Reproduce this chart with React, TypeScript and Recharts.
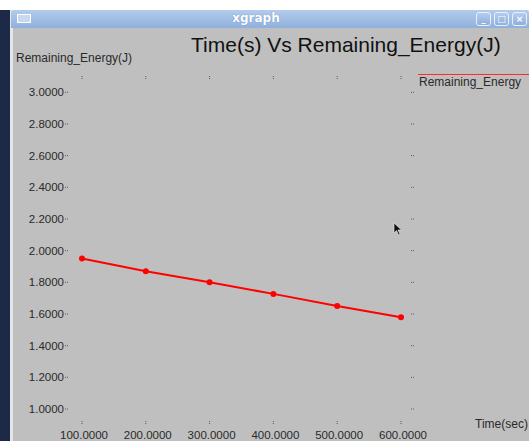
import * as React from "react";
import { LineChart, Line, XAxis, YAxis } from "recharts";

const times = [100, 200, 300, 400, 500, 600];
const remainingEnergy = [1.95, 1.87, 1.8, 1.727, 1.65, 1.58];
const xTicks = [100, 200, 300, 400, 500, 600];
const yTicks = [1.0, 1.2, 1.4, 1.6, 1.8, 2.0, 2.2, 2.4, 2.6, 2.8, 3.0];

const data = times.map((time, i) => ({ time, energy: remainingEnergy[i] }));

const FONT = "'Liberation Sans', Arial, Helvetica, sans-serif";
const BG = "#bfbfbf";
const INK = "#2a2a2a";
const MARK = "#5a5a5a";

function LeftTick(props: any) {
  const { x, y, payload } = props;
  return (
    <g>
      <text x={x - 6} y={y + 4} textAnchor="end" fontSize={11.5} fontFamily={FONT} fill={INK}>
        {payload.value.toFixed(4)}
      </text>
      <line x1={x - 5} x2={x - 1} y1={y} y2={y} stroke={MARK} strokeDasharray="1 1" />
    </g>
  );
}

function RightTick(props: any) {
  const { x, y } = props;
  return <line x1={x - 3} x2={x + 1} y1={y} y2={y} stroke={MARK} strokeDasharray="1 1" />;
}

function TopTick(props: any) {
  const { x, y } = props;
  return <line x1={x} x2={x} y1={y} y2={y + 4} stroke={MARK} strokeDasharray="1 1" />;
}

function BottomTick(props: any) {
  const { x, y, payload } = props;
  return (
    <g>
      <line x1={x} x2={x} y1={y - 2} y2={y + 2} stroke={MARK} strokeDasharray="1 1" />
      <text x={x + 2} y={y + 16} textAnchor="middle" fontSize={11.5} fontFamily={FONT} fill={INK}>
        {payload.value.toFixed(4)}
      </text>
    </g>
  );
}

function WinButton({ left, glyph }: { left: number; glyph: string }) {
  return (
    <div
      style={{
        position: "absolute",
        left,
        top: 12,
        width: 15,
        height: 14,
        borderRadius: 3,
        border: "1px solid #e8f0fb",
        background: "linear-gradient(#b7cdee, #8eaedc)",
        boxSizing: "border-box",
        color: "#fff",
        fontFamily: "'DejaVu Sans', sans-serif",
        fontWeight: "bold",
        fontSize: 9,
        lineHeight: "12px",
        textAlign: "center",
      }}
    >
      {glyph}
    </div>
  );
}

export default function App() {
  return (
    <div style={{ position: "absolute", left: 0, top: 0, width: 529, height: 441, background: "#fff", overflow: "hidden" }}>
      {/* desktop strip */}
      <div style={{ position: "absolute", left: 0, top: 10, width: 10, height: 431, background: "#1d2a47" }} />
      {/* window */}
      <div style={{ position: "absolute", left: 10, top: 10, width: 519, height: 431, background: "#e6e6e6" }} />
      <div style={{ position: "absolute", left: 13, top: 28, width: 516, height: 413, background: BG }} />
      {/* title bar */}
      <div
        style={{
          position: "absolute",
          left: 11,
          top: 10,
          width: 518,
          height: 18,
          background: "linear-gradient(#b3cbec, #8fb0dd)",
          borderRadius: "3px 3px 0 0",
        }}
      >
        <div style={{ position: "absolute", left: 6, top: 4, width: 14, height: 9, border: "1px solid #fff", background: "#c9d8ee", boxSizing: "border-box" }} />
        <div
          style={{
            position: "absolute",
            left: 0,
            width: 490,
            top: 1,
            textAlign: "center",
            fontFamily: "'DejaVu Sans', sans-serif",
            fontWeight: "bold",
            fontSize: 12,
            color: "#fff",
            textShadow: "0 0 1px #5b7fb3",
          }}
        >
          xgraph
        </div>
      </div>
      <WinButton left={476} glyph="_" />
      <WinButton left={494} glyph="□" />
      <WinButton left={512} glyph="×" />

      {/* titles */}
      <div style={{ position: "absolute", left: 191, top: 33, fontFamily: FONT, fontSize: 21, color: "#111", whiteSpace: "nowrap" }}>
        Time(s) Vs Remaining_Energy(J)
      </div>
      <div style={{ position: "absolute", left: 16, top: 51, fontFamily: FONT, fontSize: 12, color: INK, whiteSpace: "nowrap" }}>
        Remaining_Energy(J)
      </div>
      <div style={{ position: "absolute", left: 475, top: 417, fontFamily: FONT, fontSize: 12, color: INK, whiteSpace: "nowrap" }}>
        Time(sec)
      </div>

      {/* legend */}
      <div style={{ position: "absolute", left: 419, top: 75, fontFamily: FONT, fontSize: 12, color: INK, lineHeight: "14px", whiteSpace: "nowrap" }}>
        Remaining_Energy
      </div>
      <div style={{ position: "absolute", left: 418, top: 74, width: 111, height: 1, background: "#ff2a2a", zIndex: 5 }} />

      {/* mouse cursor */}
      <svg style={{ position: "absolute", left: 393, top: 222 }} width={10} height={14}>
        <polygon points="1,1 1,11 3.5,8.5 5.5,13 7,12.3 5,8 8.5,8" fill="#111" stroke="#eee" strokeWidth={0.6} />
      </svg>

      <div style={{ position: "absolute", left: 0, top: 0 }}>
        <LineChart width={529} height={441} data={data} margin={{ top: 0, right: 0, bottom: 0, left: 0 }}>
          <XAxis
            dataKey="time"
            type="number"
            domain={[81.2, 620.4]}
            ticks={xTicks}
            allowDataOverflow
            height={18}
            axisLine={false}
            tickLine={false}
            tickSize={0}
            tickMargin={0}
            tick={<BottomTick />}
            interval={0}
          />
          <XAxis
            xAxisId="top"
            orientation="top"
            dataKey="time"
            type="number"
            domain={[81.2, 620.4]}
            ticks={xTicks}
            allowDataOverflow
            height={76}
            axisLine={false}
            tickLine={false}
            tickSize={0}
            tickMargin={0}
            tick={<TopTick />}
            interval={0}
          />
          <YAxis
            type="number"
            domain={[0.9116, 3.103]}
            ticks={yTicks}
            allowDataOverflow
            width={70}
            axisLine={false}
            tickLine={false}
            tickSize={0}
            tickMargin={0}
            tick={<LeftTick />}
            interval={0}
          />
          <YAxis
            yAxisId="right"
            orientation="right"
            type="number"
            domain={[0.9116, 3.103]}
            ticks={yTicks}
            allowDataOverflow
            width={115}
            axisLine={false}
            tickLine={false}
            tickSize={0}
            tickMargin={0}
            tick={<RightTick />}
            interval={0}
          />
          <Line
            dataKey="energy"
            name="Remaining_Energy"
            stroke="#ff0000"
            strokeWidth={2}
            dot={{ r: 3, fill: "#ff0000", stroke: "#ff0000", strokeWidth: 0 }}
            isAnimationActive={false}
          />
        </LineChart>
      </div>
    </div>
  );
}
